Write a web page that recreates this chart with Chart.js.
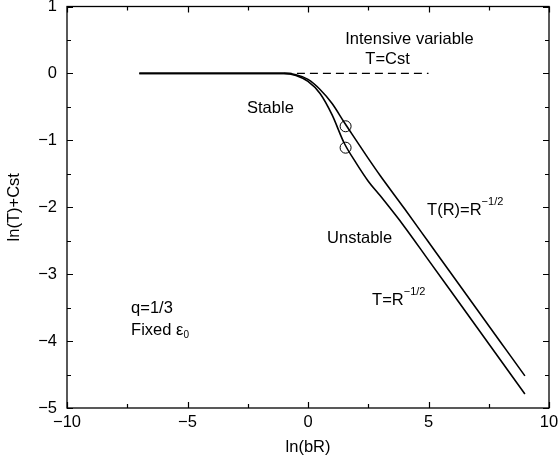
<!DOCTYPE html>
<html><head><meta charset="utf-8">
<script src="https://cdn.jsdelivr.net/npm/chart.js@4.4.0/dist/chart.umd.min.js"></script>
<style>html,body{margin:0;padding:0;background:#fff}</style>
</head><body>
<canvas id="c" width="560" height="461"></canvas>
<script>
// ---- data ----
const curveX = [-7, -3, -1, -0.5, 0, 0.5, 1, 1.5, 2, 2.5, 3, 4, 5, 6, 7, 8, 9];
const upperY = [0, 0, 0, -0.02, -0.09, -0.24, -0.45, -0.73, -1.0, -1.27, -1.53, -2.02, -2.52, -3.02, -3.52, -4.02, -4.52];
const lowerY = [0, 0, 0, -0.03, -0.12, -0.30, -0.62, -1.04, -1.34, -1.61, -1.83, -2.29, -2.79, -3.29, -3.79, -4.29, -4.79];
const dashX = [-1, 5];
const dashY = [0, 0];
const markerX = [1.56, 1.56];
const markerY = [-0.79, -1.11];
const xRange = [-10, 10];
const yRange = [-5, 1];
const xMajor = 5, xMinor = 2.5;
const yMajor = 1, yMinor = 0.5;

const FONT = '"Liberation Sans", Arial, Helvetica, sans-serif';
const FS = 16.5;

const annotations = [
  {x: 4.21, y: 0.506, align: 'center', parts: [{t: 'Intensive variable'}]},
  {x: 3.30, y: 0.21, align: 'center', parts: [{t: 'T=Cst'}]},
  {x: -2.53, y: -0.52, align: 'left', parts: [{t: 'Stable'}]},
  {x: 0.79, y: -2.47, align: 'left', parts: [{t: 'Unstable'}]},
  {x: 4.94, y: -2.05, align: 'left', parts: [{t: 'T(R)=R'}, {t: '\u22121/2', size: 11, dy: -9}]},
  {x: 2.66, y: -3.39, align: 'left', parts: [{t: 'T=R'}, {t: '\u22121/2', size: 11, dy: -8}]},
  {x: -7.34, y: -3.51, align: 'left', parts: [{t: 'q=1/3'}]},
  {x: -7.34, y: -3.84, align: 'left', parts: [{t: 'Fixed \u03b5'}, {t: '0', size: 10, dy: 5}]}
];

const toPts = (xs, ys) => xs.map((x, i) => ({x, y: ys[i]}));

const framePlugin = {
  id: 'frame',
  afterDatasetsDraw(chart) {
    const {ctx, chartArea: {left, right, top, bottom}, scales: {x, y}} = chart;
    ctx.save();
    ctx.strokeStyle = '#000';
    ctx.lineWidth = 1.3;
    ctx.strokeRect(left, top, right - left, bottom - top);
    ctx.beginPath();
    for (let v = xRange[0]; v <= xRange[1] + 1e-9; v += xMinor) {
      const px = Math.round(x.getPixelForValue(v)) + 0.5;
      const L = Math.abs(v % xMajor) < 1e-9 ? 6 : 4;
      ctx.moveTo(px, bottom); ctx.lineTo(px, bottom - L);
      ctx.moveTo(px, top); ctx.lineTo(px, top + L);
    }
    for (let v = yRange[0]; v <= yRange[1] + 1e-9; v += yMinor) {
      const py = Math.round(y.getPixelForValue(v)) + 0.5;
      const L = Math.abs(v % yMajor) < 1e-9 ? 6 : 4;
      ctx.moveTo(left, py); ctx.lineTo(left + L, py);
      ctx.moveTo(right, py); ctx.lineTo(right - L, py);
    }
    ctx.lineWidth = 1.2;
    ctx.stroke();

    // annotations
    ctx.fillStyle = '#000';
    ctx.textBaseline = 'middle';
    for (const a of annotations) {
      const px = x.getPixelForValue(a.x);
      const py = y.getPixelForValue(a.y);
      let total = 0;
      const widths = a.parts.map(p => {
        ctx.font = (p.size || FS) + 'px ' + FONT;
        const w = ctx.measureText(p.t).width;
        total += w;
        return w;
      });
      let cx = a.align === 'center' ? px - total / 2 : px;
      ctx.textAlign = 'left';
      a.parts.forEach((p, i) => {
        ctx.font = (p.size || FS) + 'px ' + FONT;
        ctx.fillText(p.t, cx, py + (p.dy || 0));
        cx += widths[i];
      });
    }
    ctx.restore();
  }
};

const minusFmt = v => String(v).replace('-', '\u2212');

new Chart(document.getElementById('c'), {
  type: 'scatter',
  data: {
    datasets: [
      {data: toPts(curveX, upperY), showLine: true, borderColor: '#000', borderWidth: 1.6,
       pointRadius: 0, cubicInterpolationMode: 'monotone', fill: false},
      {data: toPts(curveX, lowerY), showLine: true, borderColor: '#000', borderWidth: 1.6,
       pointRadius: 0, cubicInterpolationMode: 'monotone', fill: false},
      {data: toPts(dashX, dashY), showLine: true, borderColor: '#000', borderWidth: 1.2,
       borderDash: [8, 5], pointRadius: 0, fill: false},
      {data: toPts(markerX, markerY), showLine: false, pointStyle: 'circle', pointRadius: 5.5,
       pointBorderColor: '#000', pointBackgroundColor: 'rgba(0,0,0,0)', pointBorderWidth: 1}
    ]
  },
  options: {
    responsive: false,
    animation: false,
    events: [],
    layout: {padding: {left: 0, top: 5, right: 11, bottom: 0}},
    plugins: {legend: {display: false}, tooltip: {enabled: false}},
    scales: {
      x: {
        type: 'linear', min: xRange[0], max: xRange[1],
        grid: {display: false, drawTicks: false},
        border: {display: false},
        ticks: {stepSize: xMajor, color: '#000', padding: 5, font: {family: FONT, size: FS}, callback: minusFmt},
        title: {display: true, text: 'ln(bR)', color: '#000', font: {family: FONT, size: FS}, padding: {top: 0, bottom: 4}},
        afterFit(s) { s.height = 53; s.paddingLeft = 0; s.paddingRight = 0; }
      },
      y: {
        type: 'linear', min: yRange[0], max: yRange[1],
        grid: {display: false, drawTicks: false},
        border: {display: false},
        ticks: {stepSize: yMajor, color: '#000', padding: 10, font: {family: FONT, size: FS}, callback: minusFmt},
        title: {display: true, text: 'ln(T)+Cst', color: '#000', font: {family: FONT, size: FS}, padding: {top: 5, bottom: 0}},
        afterFit(s) { s.width = 67; s.paddingTop = 0; s.paddingBottom = 0; }
      }
    }
  },
  plugins: [framePlugin]
});
</script>
</body></html>
